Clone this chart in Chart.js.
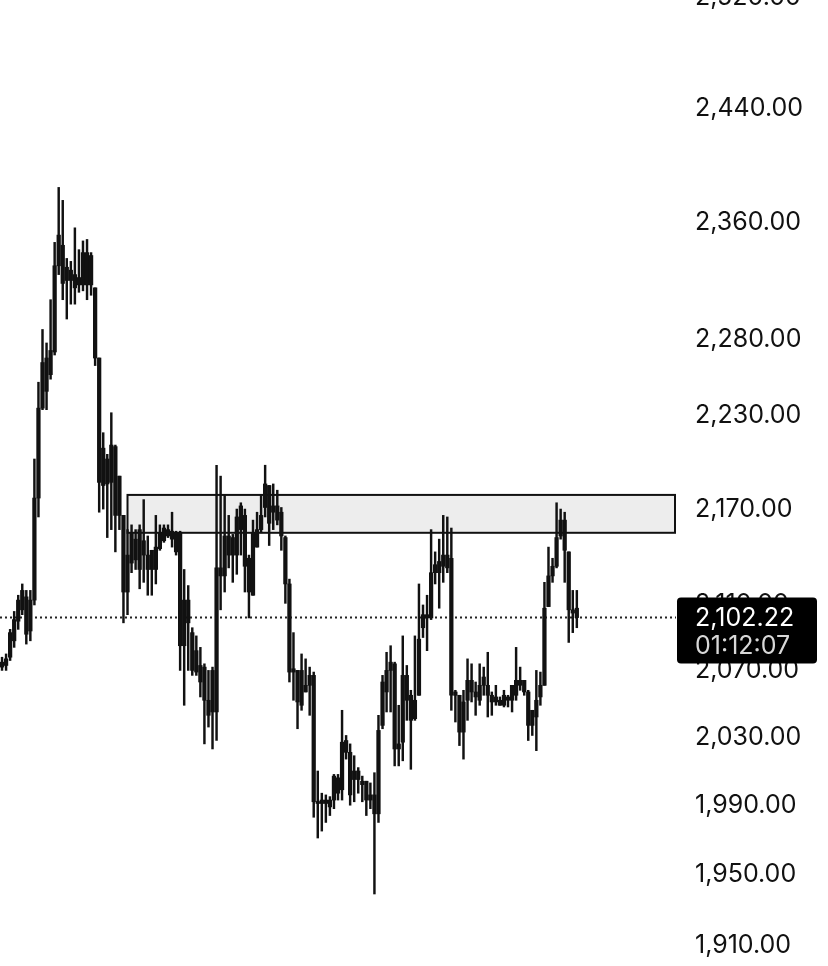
<!DOCTYPE html>
<html>
<head>
<meta charset="utf-8">
<script src="https://cdn.jsdelivr.net/npm/chart.js@4.4.1/dist/chart.umd.min.js"></script>
<style>
  html, body { margin: 0; padding: 0; background: #fff; }
  #wrap { width: 828px; height: 966px; }
</style>
</head>
<body>
<div id="wrap"><canvas id="chart"></canvas></div>
<script>
const opens = [2072,2073,2078,2088,2100,2107,2115,2094,2113,2177,2235,2268,2257,2272,2330,2344,2320,2327,2324,2317,2317,2339,2317,2315,2268,
  2209,2186,2211,2210,2191,2166,2118,2136,2151,2157,2141,2141,2132,2132,2145,2150,2157,2151,2155,2155,2085,2113,2093,2069,2073,2072,2052,2045,2045,
  2133,2128,2153,2152,2141,2157,2166,2139,2116,2146,2157,2171,2185,2168,2172,2168,2152,2123,2069,2070,2049,2061,2061,2067,1992,1991,1993,1993,1993,
  2006,1999,2028,2021,2005,2010,2004,2004,1993,1996,1985,2037,2057,2070,2074,2023,2027,2067,2055,2041,2055,2096,2104,2102,2130,2137,2134,2141,2139,
  2055,2055,2033,2052,2064,2057,2052,2061,2061,2055,2051,2052,2049,2054,2052,2055,2064,2064,2057,2037,2042,2054,2061,2109,2128,2134,2153,2163,2143,2107,2108];
const highs = [2078,2080,2095,2106,2116,2123,2119,2119,2202,2252,2287,2278,2307,2346,2384,2375,2335,2333,2356,2341,2347,2348,2339,2315,2268,
  2219,2205,2232,2211,2191,2166,2157,2160,2157,2160,2176,2153,2144,2166,2160,2160,2160,2168,2156,2156,2132,2122,2096,2091,2084,2074,2070,2072,2198,
  2191,2179,2166,2154,2170,2174,2170,2141,2163,2168,2179,2198,2185,2186,2182,2171,2153,2126,2093,2070,2080,2077,2072,2069,2010,1997,1996,1995,2008,
  2008,2046,2031,2026,2019,2012,2007,2004,2003,2009,2043,2067,2081,2085,2075,2049,2091,2073,2058,2091,2123,2110,2116,2157,2143,2151,2166,2165,2158,
  2058,2055,2058,2077,2074,2063,2074,2072,2081,2057,2061,2054,2058,2055,2061,2084,2072,2064,2058,2046,2070,2069,2124,2146,2139,2174,2170,2168,2143,2119,2119];
const lows = [2070,2070,2076,2084,2095,2104,2086,2088,2110,2165,2234,2234,2254,2270,2324,2307,2294,2304,2304,2312,2313,2307,2310,2263,2168,
  2170,2152,2157,2143,2157,2099,2104,2130,2132,2120,2124,2116,2116,2123,2144,2149,2152,2146,2141,2070,2049,2070,2067,2067,2054,2026,2036,2023,2028,
  2107,2118,2133,2124,2129,2141,2118,2102,2116,2146,2155,2165,2147,2157,2160,2144,2111,2063,2052,2035,2046,2057,2043,1983,1971,1975,1980,1984,1988,
  1993,1993,2017,1990,1992,1997,1992,1984,1988,1939,1980,2035,2045,2045,2013,2013,2016,2040,2011,2040,2055,2090,2082,2101,2123,2108,2124,2130,2046,
  2039,2025,2017,2040,2051,2043,2049,2055,2042,2043,2049,2049,2048,2048,2045,2052,2058,2055,2028,2031,2022,2049,2061,2109,2124,2133,2151,2124,2087,2093,2096];
const closes = [2075,2077,2093,2101,2113,2119,2092,2113,2177,2235,2265,2246,2273,2330,2351,2318,2329,2320,2315,2322,2339,2317,2337,2268,2187,
  2185,2202,2187,2166,2166,2118,2141,2155,2138,2132,2150,2132,2144,2146,2155,2158,2153,2156,2143,2085,2113,2099,2070,2082,2063,2052,2043,2070,2133,
  2128,2153,2141,2141,2165,2172,2134,2118,2155,2157,2166,2186,2161,2172,2163,2153,2123,2069,2071,2051,2070,2057,2067,1992,1991,1993,1991,1989,2007,
  1997,2027,2021,1996,2010,2005,2002,1993,1996,1985,2034,2063,2070,2075,2023,2026,2067,2052,2040,2052,2089,2104,2102,2130,2135,2130,2141,2133,2055,
  2057,2033,2051,2064,2057,2054,2061,2066,2055,2051,2054,2049,2055,2052,2061,2064,2061,2057,2037,2046,2052,2061,2108,2128,2134,2152,2163,2144,2107,2105,2102.22];

const priceTicks = [1910, 1950, 1990, 2030, 2070, 2110, 2170, 2230, 2280, 2360, 2440, 2520];
const zoneTop = 2179;
const zoneBottom = 2155;
const zoneStart = 31;
const lastPrice = 2102.22;
const countdown = "01:12:07";
const totalSlots = 167;

const FONT = '"Inter", "Liberation Sans", sans-serif';
const fmt = v => v.toLocaleString("en-US", { minimumFractionDigits: 2, maximumFractionDigits: 2 });

const wickData = highs.map((h, i) => ({ x: i, y: [lows[i], h] }));
const bodyData = opens.map((o, i) => ({ x: i, y: [o, closes[i]] }));

const overlay = {
  id: "overlay",
  beforeDatasetsDraw(chart) {
    const { ctx, chartArea, scales } = chart;
    const x0 = scales.x.getPixelForValue(zoneStart);
    const yT = scales.y.getPixelForValue(zoneTop);
    const yB = scales.y.getPixelForValue(zoneBottom);
    ctx.save();
    ctx.fillStyle = "#ededed";
    ctx.fillRect(x0, yT, chartArea.right - 1 - x0, yB - yT);
    ctx.strokeStyle = "#111";
    ctx.lineWidth = 2;
    ctx.strokeRect(x0, yT, chartArea.right - 1 - x0, yB - yT);

    const yL = scales.y.getPixelForValue(lastPrice);
    ctx.setLineDash([2, 3]);
    ctx.lineWidth = 2;
    ctx.strokeStyle = "#222";
    ctx.beginPath();
    ctx.moveTo(chartArea.left, yL);
    ctx.lineTo(chartArea.right, yL);
    ctx.stroke();
    ctx.restore();
  },
  afterDraw(chart) {
    const { ctx, chartArea, scales } = chart;
    const yL = scales.y.getPixelForValue(lastPrice);
    const left = chartArea.right + 1;
    ctx.save();
    ctx.fillStyle = "#000";
    ctx.beginPath();
    ctx.roundRect(left, yL - 20, 140, 66, 4);
    ctx.fill();
    ctx.font = "25px " + FONT;
    ctx.textBaseline = "middle";
    ctx.textAlign = "left";
    ctx.fillStyle = "#fff";
    ctx.fillText(fmt(lastPrice), 695, yL + 1);
    ctx.fillStyle = "#d8d8d8";
    ctx.fillText(countdown, 695, yL + 29);
    ctx.restore();
  }
};

new Chart(document.getElementById("chart"), {
  type: "bar",
  data: {
    datasets: [
      { data: wickData, backgroundColor: "#111", barThickness: 1.8, grouped: false, order: 2 },
      { data: bodyData, backgroundColor: "#111", barThickness: 3.6, grouped: false, minBarLength: 2, order: 1 }
    ]
  },
  options: {
    responsive: true,
    maintainAspectRatio: false,
    animation: false,
    layout: { padding: 0 },
    plugins: { legend: { display: false }, tooltip: { enabled: false } },
    scales: {
      x: {
        type: "linear",
        offset: false,
        min: -0.5,
        max: totalSlots - 0.5,
        display: false
      },
      y: {
        type: "logarithmic",
        position: "right",
        min: 1898.6,
        max: 2518.3,
        grid: { display: false, drawTicks: false },
        border: { display: false },
        afterBuildTicks: scale => { scale.ticks = priceTicks.map(v => ({ value: v })); },
        afterFit: scale => { scale.width = 152; scale.paddingTop = 0; scale.paddingBottom = 0; },
        ticks: {
          autoSkip: false,
          padding: 19,
          color: "#111",
          font: { family: FONT, size: 25 },
          callback: v => fmt(v)
        }
      }
    }
  },
  plugins: [overlay]
});
</script>
</body>
</html>
